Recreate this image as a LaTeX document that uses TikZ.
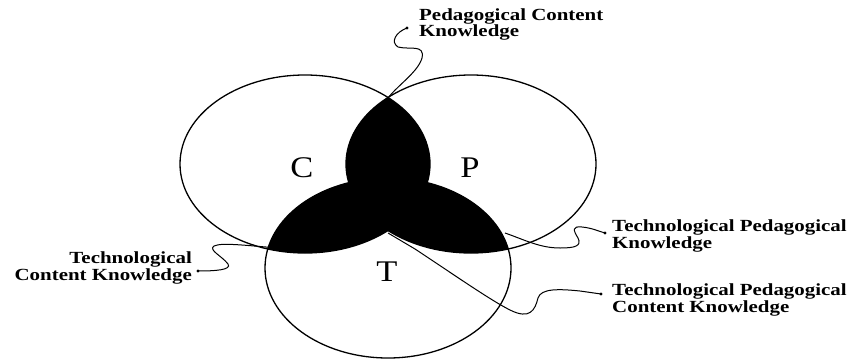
\documentclass[tikz,border=0pt]{standalone}
\usepackage{fontspec}
\setmainfont{Liberation Serif}
\newfontfamily\lblfont[FakeStretch=1.23]{Liberation Serif Bold}
\newfontfamily\setfont[FakeStretch=1.15]{Liberation Serif}
\begin{document}
\begin{tikzpicture}[x=1pt,y=-1pt,
  setline/.style={line width=1.3pt},
  conn/.style={line width=1pt},
  lbl/.style={inner sep=0pt,font=\lblfont\fontsize{17}{15}\selectfont},
  setlbl/.style={inner sep=0pt,font=\setfont\fontsize{30}{30}\selectfont},
  tipdot/.style={circle,fill=black,inner sep=0pt,minimum size=3.2pt}]
\useasboundingbox[fill=white] (0,0) rectangle (866,361);
\def\ellC{(305,164) ellipse [x radius=125,y radius=89]}
\def\ellP{(471,164) ellipse [x radius=125,y radius=89]}
\def\ellT{(388,268) ellipse [x radius=123,y radius=90]}
% black overlaps
\begin{scope}\clip \ellC; \fill[black] \ellP; \end{scope}
\begin{scope}\clip \ellC; \fill[black] \ellT; \end{scope}
\begin{scope}\clip \ellP; \fill[black] \ellT; \end{scope}
% outlines
\draw[setline] \ellC;
\draw[setline] \ellP;
\draw[setline] \ellT;
% set letters
\node[setlbl] (c) at (302,168) {C};
\node[setlbl] (p) at (470,168) {P};
\node[setlbl] (t) at (387,272) {T};
% labels (base anchor = baseline of last line)
\node[lbl,anchor=base west,align=left] (pck) at (419,37) {Pedagogical Content\\Knowledge};
\node[lbl,anchor=base west,align=left] (tpk) at (612,248) {Technological Pedagogical\\Knowledge};
\node[lbl,anchor=base west,align=left] (tpck) at (612,312) {Technological Pedagogical\\Content Knowledge};
\node[lbl,anchor=base east,align=right] (tck) at (192,280) {Technological\\Content Knowledge};
% dots
\node[tipdot] (dpck) at (407,28) {};
\node[tipdot] (dtpk) at (605,233) {};
\node[tipdot] (dtpck) at (601,294) {};
\node[tipdot] (dtck) at (198,271) {};
% anchor points in diagram
\coordinate (top) at (388,98);
\coordinate (lobeR) at (505,233);
\coordinate (cusp) at (388,233);
\coordinate (lobeL) at (290,249);
% connectors
\draw[conn] (dpck.center) .. controls (396,32) and (390,42) .. (398,47)
  .. controls (410,50) and (425,44) .. (422,58)
  .. controls (418,72) and (398,85) .. (top);
\draw[conn] (dtck.center) .. controls (215,271) and (232,270) .. (228,264)
  .. controls (222,256) and (208,250) .. (214,246)
  .. controls (222,242) and (250,246) .. (lobeL);
\draw[conn] (lobeR) .. controls (525,240) and (540,248) .. (560,248)
  .. controls (575,248) and (582,246) .. (578,238)
  .. controls (573,230) and (572,226) .. (582,227)
  .. controls (592,228) and (598,231) .. (dtpk.center);
\draw[conn] (cusp) -- (415,249) .. controls (450,272) and (490,300) .. (510,310)
  .. controls (530,320) and (535,310) .. (538,298)
  .. controls (541,288) and (560,289) .. (580,291) -- (dtpck.center);
\end{tikzpicture}
\end{document}
